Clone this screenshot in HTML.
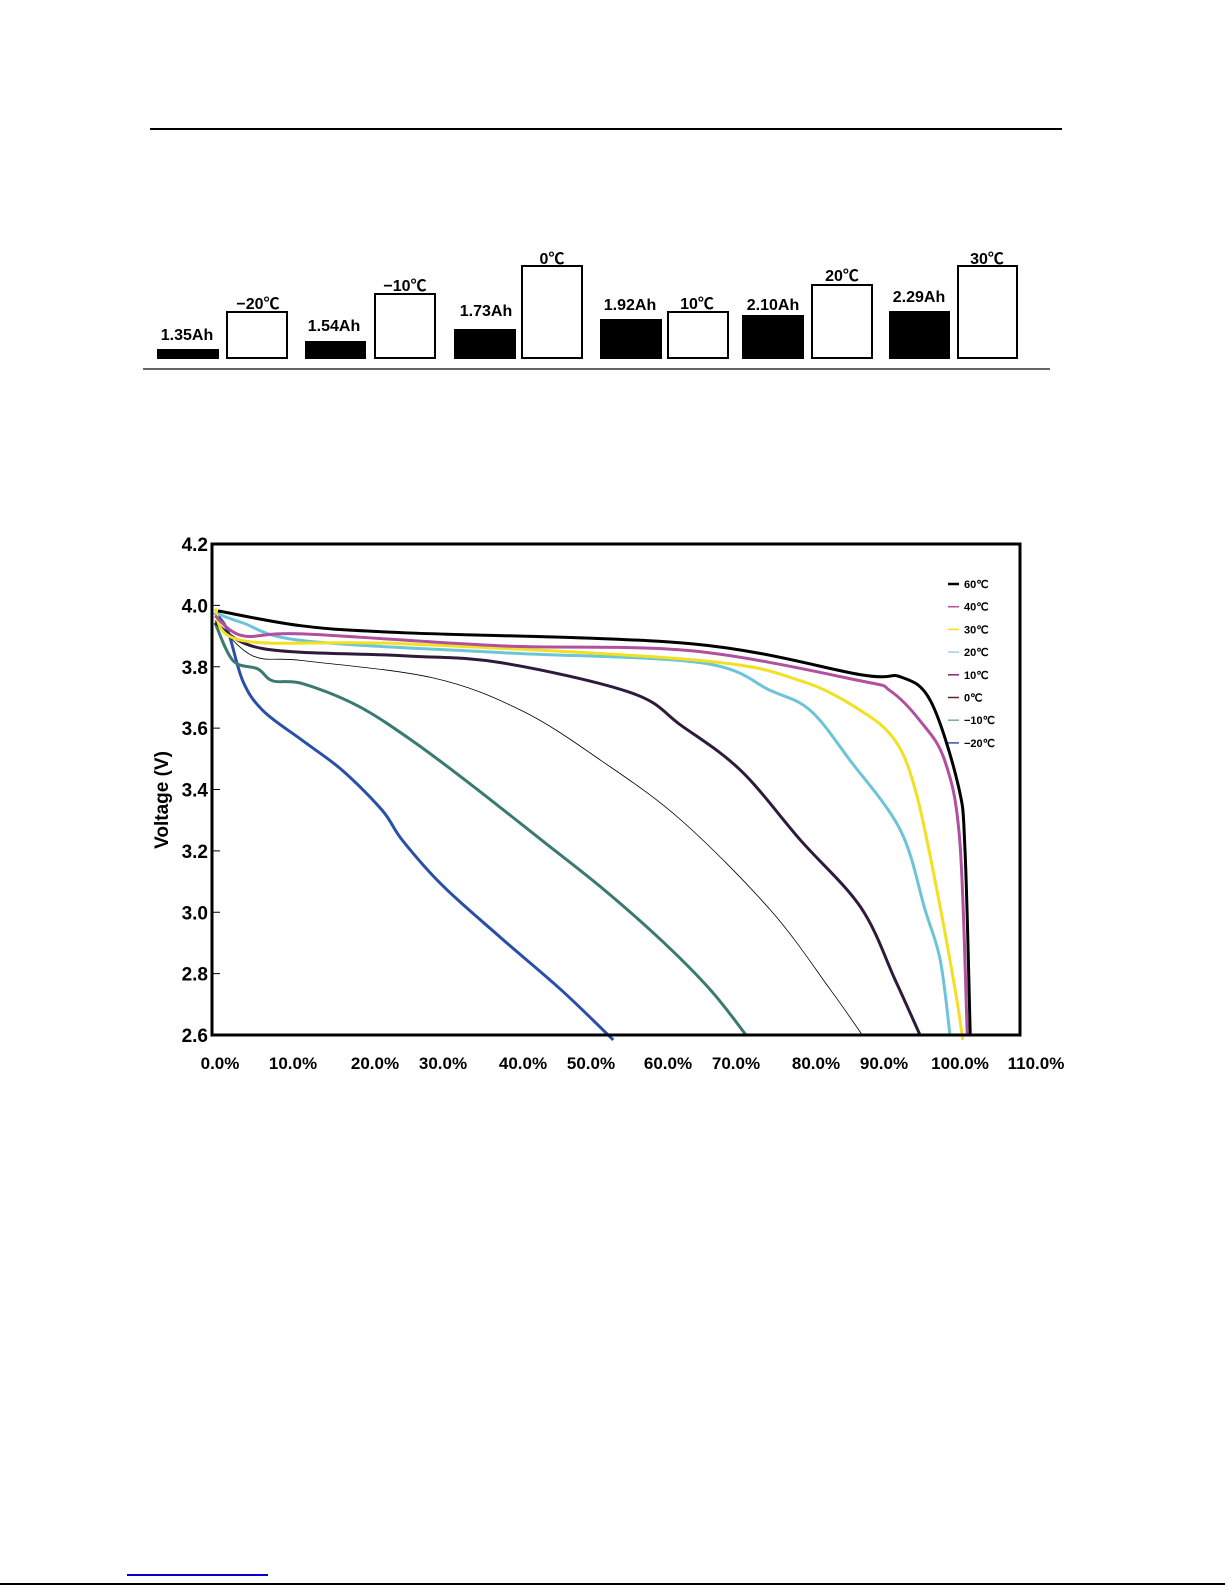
<!DOCTYPE html>
<html><head><meta charset="utf-8"><style>
body{margin:0;background:#fff;}
#page{position:relative;width:1225px;height:1585px;overflow:hidden;background:#fff;font-family:"Liberation Sans","Noto Sans CJK SC",sans-serif;}
.bk{position:absolute;background:#000;}
.wh{position:absolute;border:2px solid #000;box-sizing:border-box;background:#fff;}
.lb{position:absolute;font-weight:bold;font-size:16px;color:#000;white-space:nowrap;transform:translateX(-50%);}
</style></head><body>
<div id="page">
<div style="position:absolute;left:150px;top:128px;width:912px;height:2px;background:#000"></div>
<div style="position:absolute;left:143px;top:368px;width:907px;height:2px;background:#666"></div>

<div class="bk" style="left:157px;top:349px;width:62px;height:10px"></div>
<div class="lb" style="left:187px;top:327px">1.35Ah</div>
<div class="wh" style="left:226px;top:311px;width:62px;height:48px"></div>
<div class="lb" style="left:258px;top:290px">−20℃</div>

<div class="bk" style="left:305px;top:341px;width:61px;height:18px"></div>
<div class="lb" style="left:334px;top:318px">1.54Ah</div>
<div class="wh" style="left:374px;top:293px;width:62px;height:66px"></div>
<div class="lb" style="left:405px;top:272px">−10℃</div>

<div class="bk" style="left:454px;top:329px;width:62px;height:30px"></div>
<div class="lb" style="left:486px;top:303px">1.73Ah</div>
<div class="wh" style="left:521px;top:265px;width:62px;height:94px"></div>
<div class="lb" style="left:552px;top:245px">0℃</div>

<div class="bk" style="left:600px;top:319px;width:62px;height:40px"></div>
<div class="lb" style="left:630px;top:297px">1.92Ah</div>
<div class="wh" style="left:667px;top:311px;width:62px;height:48px"></div>
<div class="lb" style="left:697px;top:290px">10℃</div>

<div class="bk" style="left:742px;top:315px;width:62px;height:44px"></div>
<div class="lb" style="left:773px;top:297px">2.10Ah</div>
<div class="wh" style="left:811px;top:284px;width:62px;height:75px"></div>
<div class="lb" style="left:842px;top:262px">20℃</div>

<div class="bk" style="left:889px;top:311px;width:61px;height:48px"></div>
<div class="lb" style="left:919px;top:289px">2.29Ah</div>
<div class="wh" style="left:957px;top:265px;width:61px;height:94px"></div>
<div class="lb" style="left:987px;top:245px">30℃</div>

<svg id="chart" width="1225" height="1585" style="position:absolute;left:0;top:0">
<g id="curves"></g>
<rect x="212" y="544" width="808" height="491" fill="none" stroke="#000" stroke-width="3"/>
<g id="yaxis" font-family="Liberation Sans, sans-serif" font-weight="bold" font-size="19"></g>
<g id="xaxis" font-family="Liberation Sans, sans-serif" font-weight="bold" font-size="17"></g>
<text transform="translate(168,800) rotate(-90)" text-anchor="middle" font-family="Liberation Sans, sans-serif" font-weight="bold" font-size="19">Voltage (V)</text>
<g id="legend" font-family="Liberation Sans, sans-serif" font-weight="bold" font-size="11"></g>
</svg>
<div style="position:absolute;left:127px;top:1574px;width:141px;height:2px;background:#0000cc"></div>
<div style="position:absolute;left:0;top:1583px;width:1225px;height:2px;background:#000"></div>
</div>
<script>
const yTicks=[4.2,4.0,3.8,3.6,3.4,3.2,3.0,2.8,2.6];
const xTickLabels=["0.0%","10.0%","20.0%","30.0%","40.0%","50.0%","60.0%","70.0%","80.0%","90.0%","100.0%","110.0%"];
const xTickPos=[220,293,375,443,523,591,668,736,816,884,960,1036];
const seriesNames=["60℃","40℃","30℃","20℃","10℃","0℃","−10℃","−20℃"];
const s60pct=[0.4,11.7,25,63.5,86.1,91.4,95.4,99.1,100,100.7];
const s60v=[3.982,3.933,3.911,3.875,3.774,3.767,3.689,3.413,3.202,2.6];
const s40pct=[0,3.7,11.7,38.2,63.5,86.1,90,94,97.3,99.3,100.3];
const s40v=[3.966,3.901,3.907,3.868,3.852,3.754,3.722,3.624,3.494,3.234,2.6];
const s30pct=[0,3.7,25,64.8,78.1,86.1,90.7,93.4,96,98.7,99.7];
const s30v=[3.989,3.885,3.875,3.82,3.754,3.657,3.559,3.397,3.104,2.746,2.584];
const s20pct=[0,3.7,11.7,38.2,64.8,74.1,79.4,84.7,91.4,94.7,96.7,98];
const s20v=[3.976,3.943,3.885,3.846,3.813,3.722,3.657,3.494,3.267,3.006,2.844,2.6];
const s10pct=[0,6.4,25,38.2,55.5,62.2,70.1,78.1,86.1,90.7,94];
const s10v=[3.943,3.859,3.836,3.813,3.715,3.608,3.462,3.234,3.016,2.779,2.6];
const s0pct=[0,5,11.7,29,40.9,51.5,62.2,74.1,82.1,86.3];
const s0v=[3.95,3.836,3.82,3.764,3.657,3.494,3.299,3.006,2.746,2.6];
const sm10pct=[0,2.4,5.7,7.7,11.7,19,26.3,34.3,43.6,51.5,59.5,66.1,70.8];
const sm10v=[3.943,3.82,3.793,3.754,3.745,3.673,3.559,3.413,3.234,3.081,2.909,2.746,2.6];
const sm20pct=[0,1.7,3.7,6.4,11.7,17,22.3,25,30.3,38.2,46.2,53.1];
const sm20v=[3.976,3.917,3.754,3.657,3.559,3.462,3.332,3.234,3.088,2.915,2.746,2.584];
const seriesPct=[s60pct,s40pct,s30pct,s20pct,s10pct,s0pct,sm10pct,sm20pct];
const seriesV=[s60v,s40v,s30v,s20v,s10v,s0v,sm10v,sm20v];
const colors=["#000","#b0509f","#f2e022","#6cc4d8","#2e1a3a","#000","#3a7a72","#2a4fa8"];
const widths=[3,3,3,3,3,0.8,3,3];
const legendColors=["#000","#b0509f","#f2e022","#9ad6e6","#7a2a7a","#6a2020","#7aa8a8","#4050a0"];
const NS="http://www.w3.org/2000/svg";
const xs=p=>215+p*7.5;
const ys=v=>544+(4.2-v)*(491/1.6);
const cg=document.getElementById('curves');
for(let i=seriesPct.length-1;i>=0;i--){
  const p=document.createElementNS(NS,'path');
  const pts=seriesPct[i].map((x,j)=>[xs(x),ys(seriesV[i][j])]);
  let d='M'+pts[0][0]+','+pts[0][1];
  for(let j=1;j<pts.length;j++){
    const p0=pts[j-2]||pts[j-1],p1=pts[j-1],p2=pts[j],p3=pts[j+1]||p2;
    d+=' C'+(p1[0]+(p2[0]-p0[0])/6)+','+(p1[1]+(p2[1]-p0[1])/6)+' '+(p2[0]-(p3[0]-p1[0])/6)+','+(p2[1]-(p3[1]-p1[1])/6)+' '+p2[0]+','+p2[1];
  }
  p.setAttribute('d',d);p.setAttribute('fill','none');
  p.setAttribute('stroke',colors[i]);p.setAttribute('stroke-width',widths[i]);
  
  
  cg.appendChild(p);
}
const ya=document.getElementById('yaxis');
yTicks.forEach(v=>{
  const t=document.createElementNS(NS,'text');
  t.setAttribute('x',208);t.setAttribute('y',ys(v)+7);t.setAttribute('text-anchor','end');
  t.textContent=v.toFixed(1);
  
  
  ya.appendChild(t);
  const l=document.createElementNS(NS,'line');
  l.setAttribute('x1',212);l.setAttribute('x2',220);l.setAttribute('y1',ys(v));l.setAttribute('y2',ys(v));l.setAttribute('stroke','#000');
  
  
  ya.appendChild(l);
});
const xa=document.getElementById('xaxis');
xTickLabels.forEach((s,i)=>{
  const t=document.createElementNS(NS,'text');
  t.setAttribute('x',xTickPos[i]);t.setAttribute('y',1069);t.setAttribute('text-anchor','middle');
  t.textContent=s;
  
  
  xa.appendChild(t);
});
const lg=document.getElementById('legend');
seriesNames.forEach((s,i)=>{
  const y=584+i*22.7;
  const l=document.createElementNS(NS,'line');
  l.setAttribute('x1',948);l.setAttribute('x2',959);l.setAttribute('y1',y);l.setAttribute('y2',y);
  l.setAttribute('stroke',legendColors[i]);l.setAttribute('stroke-width',i==0?2.5:1.5);
  
  
  lg.appendChild(l);
  const t=document.createElementNS(NS,'text');
  t.setAttribute('x',964);t.setAttribute('y',y+4);t.textContent=s;
  
  
  lg.appendChild(t);
});
</script>
</body></html>
